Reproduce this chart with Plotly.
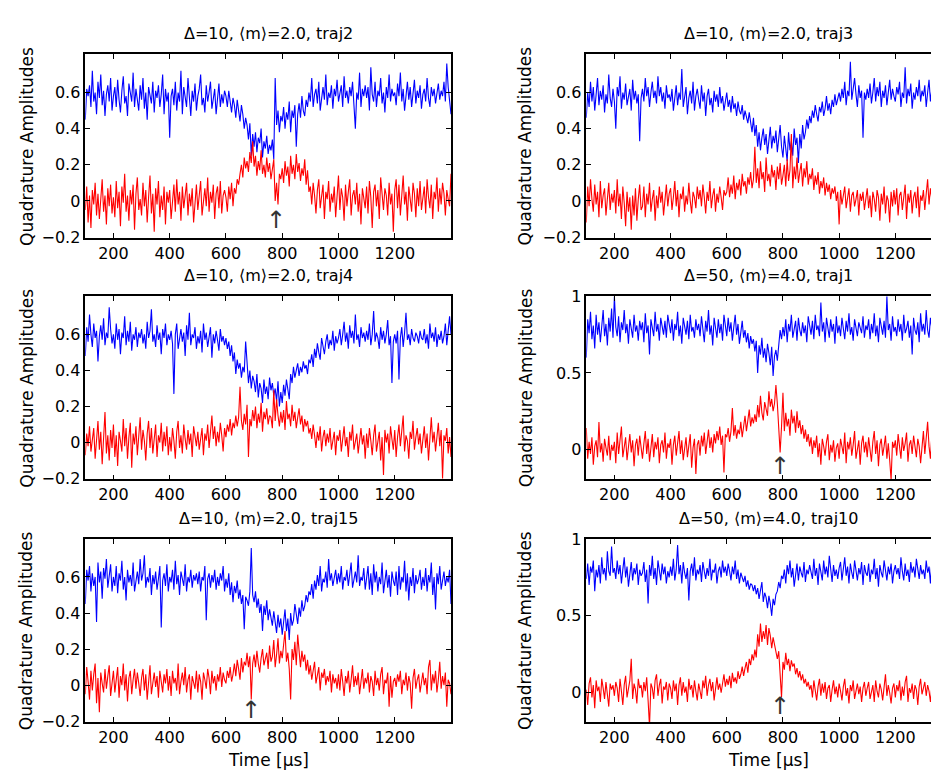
import plotly.graph_objects as go

# ---------------- data (time axis in microseconds, 5 us sampling) ----------------
time_us = list(range(100, 1401, 5))

blue_traj2 = [
    .45,.62,.58,.64,.52,.72,.55,.60,.48,.66,.57,.70,.53,.61,.47,.59,.64,.55,.68,.50,
    .58,.63,.52,.67,.56,.49,.61,.69,.54,.58,.47,.65,.60,.55,.71,.52,.62,.57,.50,.64,
    .56,.68,.51,.60,.45,.63,.58,.54,.66,.49,.61,.57,.64,.52,.59,.70,.48,.62,.55,.60,
    .35,.58,.62,.53,.66,.50,.60,.55,.72,.48,.63,.57,.52,.68,.59,.47,.61,.55,.65,.50,
    .58,.62,.70,.53,.57,.49,.64,.55,.60,.66,.51,.58,.62,.48,.57,.65,.52,.59,.54,.61,
    .58,.52,.61,.55,.49,.57,.53,.46,.56,.50,.44,.53,.48,.40,.46,.42,.34,.43,.25,.37,
    .30,.38,.27,.35,.32,.40,.24,.33,.29,.36,.26,.31,.28,.34,.23,.68,.42,.50,.38,.47,
    .44,.52,.40,.49,.45,.55,.38,.50,.46,.53,.30,.48,.54,.46,.58,.50,.47,.56,.52,.60,
    .55,.68,.52,.59,.62,.54,.66,.50,.58,.63,.56,.70,.53,.60,.57,.64,.51,.62,.58,.67,
    .55,.60,.64,.52,.69,.57,.61,.54,.63,.58,.66,.53,.40,.60,.56,.71,.52,.62,.58,.64,
    .57,.63,.50,.74,.59,.55,.66,.52,.61,.58,.68,.54,.60,.49,.63,.57,.70,.55,.62,.58,
    .60,.53,.65,.58,.71,.55,.62,.50,.59,.66,.56,.63,.52,.60,.67,.54,.61,.57,.64,.51,
    .59,.62,.55,.68,.57,.52,.63,.58,.62,.54,.60,.65,.56,.61,.58,.66,.55,.76,.63,.57,
    .48]
red_traj2 = [
    -.05,.08,-.12,.03,-.15,.06,-.02,.10,-.08,.04,-.10,.01,.12,-.06,.03,-.13,.07,-.03,.09,-.07,
    .02,-.09,.11,-.04,.05,-.14,.08,-.01,.15,-.06,.03,-.11,.06,-.02,.09,-.16,.04,.13,-.05,.01,
    -.08,.10,-.03,.06,-.12,.02,.14,-.07,.04,-.17,.07,-.02,.11,-.09,.03,-.05,.08,-.13,.05,-.01,
    .06,-.10,.03,.09,-.06,.12,-.02,.05,-.11,.08,-.04,.02,.10,-.08,.04,-.03,.07,-.12,.01,.09,
    -.05,.04,.11,-.08,.02,.07,-.03,.13,-.06,.05,-.01,.09,-.10,.04,.08,-.04,.11,-.07,.03,.06,
    .02,-.06,.08,.01,.10,-.03,.07,.04,.12,.09,.15,.20,.13,.24,.18,.22,.16,.27,.21,.33,
    .19,.25,.14,.22,.17,.28,.15,.20,.13,.24,.16,.21,.12,.18,.23,.00,.10,-.02,.15,.12,
    .18,.10,.22,.14,.19,.08,.25,.15,.20,.12,.26,.16,.21,.11,.18,.14,.23,.09,.17,.05,
    .08,-.02,.10,.03,-.07,.06,.12,-.04,.02,.09,-.10,.05,.01,.11,-.06,.04,-.01,.08,-.09,.03,
    .14,-.05,.07,.02,-.11,.09,-.03,.05,.12,-.08,.03,.06,-.02,.10,-.06,.04,-.13,.07,.01,-.04,
    .08,-.07,.11,.02,-.15,.05,.09,-.03,.06,-.10,.13,.01,-.05,.07,.03,-.08,.10,-.02,.04,-.17,
    .06,.12,-.04,.09,-.08,.03,.14,-.02,.05,-.11,.08,.01,-.06,.10,.04,-.09,.07,-.03,.11,-.05,
    .03,.08,-.07,.12,.02,-.04,.09,-.10,.05,.01,.13,-.06,.07,-.02,.10,.04,-.08,.06,.01,-.03,
    .15]

blue_traj3 = [
    .46,.60,.52,.66,.55,.63,.50,.58,.68,.53,.61,.56,.64,.49,.59,.54,.70,.57,.52,.62,
    .55,.40,.63,.58,.69,.51,.60,.56,.65,.53,.58,.62,.50,.67,.56,.61,.54,.59,.33,.57,
    .62,.55,.68,.58,.63,.52,.60,.66,.57,.61,.54,.69,.58,.63,.55,.60,.51,.64,.57,.59,
    .55,.62,.50,.58,.64,.53,.60,.56,.73,.52,.59,.63,.48,.57,.61,.54,.66,.50,.58,.62,
    .56,.51,.64,.55,.60,.47,.58,.62,.53,.57,.49,.61,.55,.59,.52,.63,.54,.58,.50,.56,
    .60,.52,.56,.49,.58,.51,.54,.47,.55,.50,.48,.53,.45,.50,.47,.43,.49,.44,.38,.46,
    .36,.42,.30,.38,.28,.35,.40,.31,.37,.26,.34,.41,.29,.36,.32,.39,.27,.35,.42,.30,
    .24,.36,.30,.22,.38,.28,.33,.25,.40,.31,.35,.21,.37,.29,.42,.34,.38,.45,.40,.47,
    .43,.50,.46,.53,.48,.44,.52,.49,.55,.47,.51,.58,.50,.54,.48,.56,.52,.59,.53,.57,
    .60,.55,.62,.57,.66,.53,.61,.58,.77,.56,.63,.68,.59,.52,.64,.57,.61,.35,.60,.56,
    .62,.57,.65,.54,.60,.68,.55,.63,.58,.66,.52,.61,.57,.64,.53,.60,.67,.56,.62,.58,
    .55,.63,.59,.66,.52,.60,.57,.74,.54,.62,.58,.65,.51,.60,.56,.63,.58,.67,.55,.61,
    .58,.64,.52,.60,.67,.55,.62,.58,.65,.53,.60,.69,.56,.63,.58,.61,.66,.54,.60,.68,
    .44]
red_traj3 = [
    -.12,.08,-.03,.12,.01,-.06,.09,-.02,.05,-.09,.11,-.04,.03,.07,-.08,.02,.10,-.05,.04,-.01,
    .06,-.07,.12,-.03,.04,-.10,.08,-.01,-.14,.05,-.06,.02,-.16,.03,-.08,.07,-.11,.01,.09,-.05,
    -.03,.08,-.09,.04,-.02,.10,-.06,.01,.06,-.11,.03,-.04,.08,-.01,.05,-.08,.02,.09,-.03,.04,
    .07,-.05,.02,.11,-.03,.06,-.09,.04,.01,.08,-.06,.03,-.02,.10,.00,-.07,.05,.02,-.04,.08,
    .01,.06,-.03,.09,.02,-.07,.05,.00,.11,-.04,.03,.07,-.06,.04,-.01,.08,.02,-.05,.06,.03,
    .05,.13,.02,.09,.04,.14,.01,.10,.06,.12,.03,.15,.08,.11,.04,.13,.09,.16,.07,.12,
    .30,.10,.18,.07,.22,.12,.16,.05,.24,.11,.15,.08,.20,.13,.17,.06,.19,.12,.21,.09,
    .14,.20,.08,.23,.11,.17,.37,.07,.19,.12,.24,.10,.16,.21,.08,.18,.13,.22,.09,.15,
    .12,.18,.06,.14,.09,.16,.04,.11,.07,.13,.03,.10,.05,.09,.01,.07,.04,.08,.00,.05,
    -.13,.06,-.02,.04,.08,-.04,.02,.07,-.06,.03,.05,-.03,.01,.06,-.08,.04,.00,.05,-.05,.02,
    .07,-.04,.03,-.09,.05,.01,-.06,.06,.02,-.11,.04,-.02,.08,-.07,.03,.00,-.12,.05,-.03,.06,
    -.02,.07,-.08,.03,.05,-.05,.01,.09,-.10,.04,-.01,.06,-.07,.02,.05,-.04,.08,-.09,.03,.00,
    .06,-.05,.04,.12,-.02,.07,.01,.16,-.04,.05,.02,.08,-.06,.04,.10,-.01,.06,.14,.03,.07,
    .15]

blue_traj4 = [
    .48,.64,.56,.71,.60,.53,.66,.58,.62,.45,.59,.65,.57,.69,.54,.61,.58,.75,.63,.55,
    .60,.52,.66,.57,.63,.49,.61,.58,.70,.54,.62,.56,.67,.51,.60,.57,.64,.53,.61,.58,
    .63,.55,.60,.52,.67,.58,.62,.74,.56,.60,.53,.65,.57,.61,.49,.63,.58,.66,.54,.60,
    .57,.62,.55,.27,.60,.66,.52,.58,.63,.56,.61,.48,.65,.57,.72,.54,.60,.58,.64,.52,
    .59,.55,.62,.50,.66,.57,.61,.53,.58,.64,.47,.60,.55,.62,.57,.51,.63,.56,.59,.54,
    .58,.52,.56,.48,.54,.45,.50,.38,.46,.41,.44,.36,.42,.39,.56,.44,.33,.40,.30,.37,
    .34,.28,.38,.25,.33,.30,.22,.35,.27,.31,.24,.36,.29,.33,.26,.30,.23,.34,.20,.28,
    .22,.32,.26,.35,.29,.24,.38,.33,.42,.36,.40,.44,.37,.42,.39,.45,.41,.43,.38,.46,
    .44,.49,.42,.52,.47,.55,.50,.46,.58,.53,.49,.56,.60,.52,.57,.54,.62,.51,.59,.55,
    .58,.63,.54,.60,.67,.56,.61,.52,.65,.58,.62,.55,.71,.57,.60,.53,.64,.58,.61,.56,
    .62,.57,.66,.54,.60,.73,.56,.61,.58,.52,.64,.57,.62,.55,.60,.68,.54,.59,.33,.56,
    .60,.55,.62,.35,.58,.64,.53,.61,.72,.57,.60,.54,.63,.58,.56,.61,.59,.55,.62,.58,
    .57,.63,.55,.60,.52,.66,.58,.61,.56,.64,.53,.60,.57,.62,.55,.59,.66,.54,.61,.70,
    .60]
red_traj4 = [
    -.07,.05,-.02,.09,-.05,.03,.08,-.09,.02,.12,-.04,.06,-.12,.01,.17,-.06,.04,-.10,.07,-.03,
    .10,-.08,.04,-.13,.06,.01,-.05,.13,-.02,.08,-.09,.03,.11,-.14,.05,-.01,.09,-.07,.02,.14,
    -.04,.07,.01,-.10,.05,.12,-.03,.08,-.06,.02,.10,-.08,.04,.00,.11,-.05,.06,-.02,.09,-.07,
    .03,-.05,.08,.01,-.09,.06,.12,-.03,.04,-.06,.10,.02,-.04,.07,-.01,.05,-.08,.09,.03,-.02,
    .06,-.04,.02,.08,-.07,.05,.01,.10,-.03,.07,.15,.02,.09,-.02,.06,.00,.11,.04,-.05,.08,
    .03,.10,.06,.13,.04,.11,.08,.15,.09,.14,.31,.12,.07,.16,.10,.21,-.08,.13,.09,.18,
    .12,.20,.08,.16,.11,.22,.06,.17,.13,.19,.10,.15,.14,.08,.29,.12,.24,.15,.09,.17,
    .11,.18,.07,.23,.13,.16,.09,.21,.12,.17,.08,.14,.19,.10,.15,.06,.13,.09,.12,.05,
    .08,.02,.10,.04,-.03,.06,.01,.09,-.05,.03,.07,-.02,.05,.00,.08,-.04,.02,.06,-.07,.04,
    .01,.07,-.05,.04,.09,-.02,.03,-.08,.06,.01,.10,-.04,.02,.05,-.06,.03,.08,-.01,.04,-.09,
    .05,-.03,.08,.01,-.07,.04,.10,-.05,.02,.06,-.10,.03,-.18,.07,.00,.05,-.06,.09,.02,-.04,
    .07,-.08,.03,.10,-.02,.05,.15,-.05,.04,.01,-.09,.06,.02,.12,-.04,.03,.08,-.01,.05,-.06,
    .02,.09,-.03,.05,-.10,.04,.14,.00,.06,-.05,.03,.11,-.02,.07,-.20,.04,.01,.08,-.06,.03,
    -.08]

blue_d50_traj1 = [
    .60,.85,.76,.90,.72,.81,.66,.88,.75,.83,.70,.79,.91,.74,.82,.68,.86,.77,.92,.73,
    1.0,.80,.74,.87,.70,.83,.78,.91,.76,.82,.69,.85,.79,.73,.88,.77,.81,.71,.84,.78,
    .83,.70,.89,.76,.81,.62,.85,.78,.74,.90,.77,.82,.71,.86,.79,.75,.84,.73,.88,.80,
    .76,.85,.71,.82,.78,.90,.74,.81,.69,.86,.79,.75,.84,.72,.88,.77,.80,.73,.85,.78,
    .82,.74,.87,.79,.70,.84,.77,.91,.75,.81,.68,.86,.78,.73,.85,.76,.82,.71,.88,.79,
    .74,.86,.77,.83,.71,.80,.88,.75,.82,.69,.79,.84,.73,.78,.70,.76,.66,.74,.69,.72,
    .64,.71,.50,.68,.62,.73,.60,.66,.57,.69,.63,.55,.67,.48,.61,.65,.58,.70,.78,.72,
    .80,.74,.85,.70,.82,.77,.88,.73,.79,.84,.71,.86,.78,.74,.83,.76,.81,.70,.87,.79,
    .75,.84,.72,.88,.78,.81,.74,.96,.77,.83,.70,.86,.79,.73,.85,.77,.82,.69,.87,.76,
    .81,.74,.86,.78,.72,.84,.77,.89,.75,.80,.71,.85,.78,.74,.83,.79,.76,.87,.73,.81,
    .78,.85,.72,.82,.76,.89,.74,.81,.70,.86,.79,.75,.84,.73,1.0,.78,.82,.71,.87,.77,
    .80,.74,.85,.77,.82,.71,.88,.76,.79,.84,.73,.81,.62,.86,.78,.75,.83,.70,.89,.77,
    .82,.75,.91,.78,.73,.86,.79,.84,.61,.88,.76,.81,.72,.90,.78,.83,.74,.87,.79,.85,
    .84]
red_d50_traj1 = [
    .14,-.06,.05,-.03,.08,-.10,.02,.06,-.05,.18,-.02,.04,-.08,.07,.01,-.04,.09,-.07,.03,-.01,
    .05,-.09,.11,-.03,.06,.15,-.05,.02,.08,-.07,.04,.10,-.02,.06,-.11,.03,.07,-.04,.09,.00,
    -.06,.04,.12,-.03,.07,-.08,.02,.10,-.05,.05,.00,.08,-.09,.03,.06,-.02,.11,-.06,.04,.01,
    .07,-.10,.03,.09,-.04,.05,.12,-.03,.06,-.07,.02,.08,-.05,.04,.10,-.12,.01,.07,-.16,.03,
    .06,-.04,.09,.02,.11,-.03,.07,.13,.01,.08,-.02,.10,.04,.12,.06,.15,.03,.09,-.15,.10,
    .08,.14,.05,.12,.27,.09,.16,.07,.13,.10,.18,.08,.15,.22,.12,.19,.26,.15,.21,.17,
    .23,.18,.29,.21,.35,.24,.19,.31,.26,.22,.38,.28,.33,.25,.30,.42,.30,.10,-.02,.15,
    .37,.12,.24,.15,.20,.09,.26,.17,.22,.11,.25,.14,.19,.10,.16,.07,.13,.05,.10,.02,
    .08,-.03,.06,.01,.09,-.05,.04,-.10,.07,.02,-.04,.05,.10,-.07,.03,-.02,.06,-.08,.01,.04,
    -.06,.07,.02,-.03,.11,-.09,.05,.00,.08,-.04,.03,.12,-.06,.01,.06,-.10,.04,.09,-.02,.05,
    -.05,.08,.01,-.08,.05,.12,-.03,.06,-.11,.03,.07,-.04,.02,.09,-.06,.04,-.07,-.20,.05,.01,
    .06,-.04,.10,.02,-.06,.08,-.01,.04,.11,-.08,.03,.06,-.03,.09,.00,-.05,.07,.02,-.09,.05,
    .12,-.03,.07,.18,.02,-.06,.09,.04,-.02,.13,.01,.06,-.08,.10,.03,-.04,.08,.00,.05,.09,
    .06]

blue_traj15 = [
    .45,.64,.58,.66,.52,.62,.55,.60,.35,.68,.57,.63,.48,.65,.59,.70,.54,.61,.67,.52,
    .60,.55,.66,.51,.62,.58,.69,.53,.60,.47,.64,.57,.61,.55,.68,.52,.59,.63,.56,.70,
    .58,.62,.72,.54,.60,.57,.65,.50,.61,.56,.63,.53,.59,.66,.32,.58,.62,.55,.67,.52,
    .60,.57,.64,.53,.69,.56,.61,.50,.63,.58,.55,.67,.52,.60,.57,.64,.54,.61,.58,.62,
    .56,.63,.52,.60,.58,.66,.36,.59,.62,.54,.61,.57,.64,.53,.60,.55,.62,.58,.66,.52,
    .59,.54,.62,.50,.57,.46,.55,.51,.58,.48,.53,.45,.50,.31,.49,.47,.44,.52,.76,.50,
    .46,.52,.43,.48,.40,.45,.30,.44,.39,.47,.36,.42,.38,.33,.41,.35,.29,.39,.32,.37,
    .28,.35,.42,.30,.37,.25,.40,.33,.36,.45,.39,.34,.43,.38,.47,.41,.44,.50,.46,.52,
    .50,.56,.48,.58,.53,.61,.55,.66,.52,.59,.57,.63,.54,.70,.58,.62,.55,.60,.64,.56,
    .62,.57,.66,.53,.60,.58,.64,.55,.61,.68,.54,.59,.63,.57,.72,.55,.60,.58,.65,.53,
    .59,.66,.53,.62,.50,.67,.57,.63,.52,.60,.56,.68,.51,.59,.64,.54,.61,.49,.63,.58,
    .55,.63,.50,.66,.53,.60,.57,.69,.52,.62,.47,.60,.55,.65,.51,.61,.56,.59,.64,.53,
    .60,.55,.65,.52,.61,.57,.68,.50,.60,.42,.62,.56,.66,.53,.59,.63,.55,.60,.57,.64,
    .45]
red_traj15 = [
    -.05,.10,.02,-.08,.08,-.03,.06,.12,-.10,.04,-.15,.07,.01,-.04,.09,-.02,.05,.11,-.06,.03,
    .08,-.04,.02,.10,-.07,.05,.00,.12,-.03,.06,-.09,.04,.08,-.05,.03,.09,-.02,.07,.01,-.06,
    .04,.09,-.03,.06,-.08,.02,.11,-.05,.03,.07,-.01,.05,-.07,.08,.02,-.04,.06,.01,.09,-.03,
    .05,-.06,.08,.01,.04,-.03,.12,-.05,.02,.07,.00,.10,-.04,.03,.06,-.08,.05,.01,-.02,.08,
    -.04,.06,.02,-.08,.07,.03,-.02,.09,.04,-.05,.08,.01,.05,-.03,.06,.02,.10,-.01,.07,.03,
    .01,.08,.04,.10,.02,.06,.12,.05,.14,.09,.03,.15,.07,.13,.11,.18,.10,.16,-.08,.12,
    .17,.10,.19,.12,.07,.15,.20,.11,.14,.18,.09,.22,.13,.16,.25,.10,.17,.26,.12,.19,
    .15,.22,.30,.13,.18,.09,-.08,.20,.14,.24,.11,.28,.16,.10,.19,.13,.17,.08,.14,.06,
    .11,.03,.08,.13,.01,.06,.10,-.03,.07,.04,.09,.00,.05,.02,.08,-.04,.06,.01,.04,-.02,
    .06,-.03,.09,.02,-.06,.05,.01,.08,-.04,.03,.11,-.01,.05,.00,.07,-.05,.03,.09,-.02,.04,
    .01,.07,-.04,.05,.02,-.06,.08,.00,.04,-.03,.06,.10,-.05,.03,.01,.07,-.12,.05,-.07,.02,
    .04,-.01,.06,.02,.08,-.05,.03,.00,.07,-.03,.05,.01,-.13,.04,.09,-.02,.03,.06,-.04,.02,
    .07,.00,.04,-.05,.10,.14,-.03,.06,.01,.08,-.04,.03,.13,-.02,.05,.00,.07,-.12,.03,.01,
    -.05]

blue_d50_traj10 = [
    .74,.84,.70,.82,.78,.86,.66,.80,.75,.83,.71,.88,.77,.81,.73,.92,.79,.76,.95,.78,
    .81,.74,.86,.77,.83,.71,.80,.88,.75,.82,.69,.79,.85,.73,.81,.77,.84,.70,.80,.76,
    .78,.85,.72,.80,.58,.83,.76,.89,.74,.81,.70,.86,.78,.73,.84,.77,.82,.71,.79,.75,
    .82,.76,.87,.73,.80,.96,.77,.83,.71,.85,.78,.74,.81,.60,.79,.84,.76,.88,.73,.80,
    .77,.83,.72,.85,.79,.74,.81,.76,.87,.73,.80,.78,.84,.71,.79,.82,.75,.86,.78,.82,
    .76,.84,.79,.73,.82,.77,.86,.74,.80,.71,.78,.75,.72,.76,.69,.73,.67,.71,.70,.66,
    .70,.64,.68,.61,.66,.72,.59,.65,.62,.55,.63,.58,.50,.61,.57,.64,.66,.72,.68,.76,
    .74,.80,.71,.83,.77,.86,.75,.81,.69,.79,.84,.73,.82,.78,.75,.85,.72,.80,.77,.83,
    .78,.74,.87,.76,.81,.70,.84,.79,.73,.86,.77,.82,.75,.89,.78,.72,.83,.76,.80,.74,
    .81,.85,.73,.79,.88,.76,.82,.71,.84,.78,.74,.86,.79,.73,.81,.77,.85,.70,.83,.78,
    .76,.84,.72,.80,.77,.87,.74,.81,.69,.83,.78,.75,.86,.80,.73,.82,.77,.84,.71,.79,
    .83,.77,.81,.74,.88,.79,.73,.84,.76,.80,.72,.85,.78,.82,.75,.87,.79,.74,.83,.77,
    .80,.74,.86,.78,.82,.71,.85,.79,.75,.97,.77,.83,.73,.88,.79,.84,.76,.81,.94,.78,
    .85]
red_d50_traj10 = [
    .02,-.08,.06,.10,-.03,.05,-.10,.08,.01,.04,-.06,.09,.03,-.04,.07,.00,-.09,.06,.02,.05,
    -.02,.07,.03,-.06,.09,.01,-.08,.05,.11,-.03,.04,.08,.22,-.04,.06,.02,-.07,.09,.03,.05,
    -.03,.07,.01,.10,-.05,-.22,.06,.03,-.04,.08,.12,-.02,.05,.09,-.07,.04,.02,.07,-.05,.06,
    .03,-.04,.08,.01,.06,-.08,.05,.10,-.02,.07,.00,.04,-.06,.09,.02,.05,-.03,.08,.01,-.05,
    .06,.02,-.04,.08,.03,.11,-.02,.05,.09,.01,.07,-.05,.04,.10,.02,.06,.00,.08,.12,.04,
    .09,.05,.11,.03,.13,.07,.10,.06,.14,.09,.12,.17,.11,.16,.20,.13,.22,.18,.25,.21,
    .28,.23,.38,.30,.45,.33,.40,.35,.44,.31,.42,.37,.29,.36,.32,.28,.22,.27,.08,-.03,
    .20,.15,.26,.18,.22,.14,.21,.17,.19,.12,.16,.10,.14,.08,.12,.06,.09,.04,.07,.02,
    .05,-.03,.08,.01,-.05,.04,.09,-.02,.06,.00,.07,-.04,.03,.05,-.06,.02,.08,-.01,.04,-.03,
    .06,.01,-.05,.04,.09,-.02,.03,-.07,.05,.01,.08,-.04,.02,.06,-.01,.04,-.06,.03,.07,-.02,
    .03,.07,-.04,.02,.05,-.06,.08,.01,-.03,.06,.02,-.05,.04,.12,-.02,.05,.00,-.07,.03,.06,
    -.03,.05,.01,.08,-.05,.04,-.02,.07,.11,-.06,.03,.00,.06,-.04,.05,.02,-.08,.04,.09,-.01,
    .03,.07,-.02,.05,.01,-.06,.04,.10,.00,.05,-.03,.08,.02,-.04,.06,.01,.09,-.02,.04,.00,
    .02]

panel_titles = [
    "Δ=10, ⟨m⟩=2.0, traj2", "Δ=10, ⟨m⟩=2.0, traj3",
    "Δ=10, ⟨m⟩=2.0, traj4", "Δ=50, ⟨m⟩=4.0, traj1",
    "Δ=10, ⟨m⟩=2.0, traj15", "Δ=50, ⟨m⟩=4.0, traj10",
]
blue_series = [blue_traj2, blue_traj3, blue_traj4, blue_d50_traj1, blue_traj15, blue_d50_traj10]
red_series = [red_traj2, red_traj3, red_traj4, red_d50_traj1, red_traj15, red_d50_traj10]
x_ticks = [200, 400, 600, 800, 1000, 1200]
y_ticks_small = [-0.2, 0, 0.2, 0.4, 0.6]
y_ticks_large = [0, 0.5, 1]
# jump times marked with an arrow (None = no arrow)
arrow_times = [779, None, None, 788, 690, 790]
arrow_levels = [-0.106, None, None, -0.11, -0.135, -0.085]
y_label = "Quadrature Amplitudes"
x_label = "Time [µs]"

# ---------------- layout geometry ----------------
W, H = 939, 776
FONT = "DejaVu Sans"
col_px = [(77.3, 443.0), (578.3, 943.5)]      # right column is cropped at the page edge
row_px = [(38.3, 226.0), (286.0, 473.3), (534.3, 721.7)]
y_ranges = [[-0.204, 0.811], [-0.204, 0.811], [-0.204, 0.811],
            [-0.195, 1.0], [-0.204, 0.811], [-0.19, 1.0]]

fig = go.Figure()
annotations = []
layout = dict(width=W, height=H, margin=dict(l=0, r=0, t=0, b=0),
              paper_bgcolor="white", plot_bgcolor="white", showlegend=False,
              font=dict(family=FONT, size=16, color="black"))

for i in range(6):
    r, c = divmod(i, 2)
    n = i + 1
    sfx = "" if n == 1 else str(n)
    x0, x1 = col_px[c]
    y0, y1 = row_px[r]
    vis_x1 = min(x1, W)
    xr_end = 100 + 1300 * (vis_x1 - x0) / (x1 - x0)
    xd = [x0 / W, vis_x1 / W]
    yd = [1 - y1 / H, 1 - y0 / H]

    fig.add_trace(go.Scatter(x=time_us[:len(blue_series[i])], y=blue_series[i], mode="lines",
                             line=dict(color="#0000ff", width=1.1), xaxis="x" + sfx, yaxis="y" + sfx))
    fig.add_trace(go.Scatter(x=time_us[:len(red_series[i])], y=red_series[i], mode="lines",
                             line=dict(color="#ff0000", width=1.1), xaxis="x" + sfx, yaxis="y" + sfx))

    layout["xaxis" + sfx] = dict(domain=xd, range=[100, xr_end], anchor="y" + sfx,
                                 tickvals=x_ticks, ticks="inside", ticklen=5, tickwidth=1,
                                 tickcolor="black", showline=True, linecolor="black", linewidth=1.5,
                                 mirror="ticks", showgrid=False, zeroline=False,
                                 tickfont=dict(family=FONT, size=16, color="black"))
    yt = y_ticks_large if y_ranges[i][1] > 0.9 else y_ticks_small
    layout["yaxis" + sfx] = dict(domain=yd, range=y_ranges[i], anchor="x" + sfx,
                                 tickvals=yt, ticks="inside", ticklen=5, tickwidth=1,
                                 tickcolor="black", showline=True, linecolor="black", linewidth=1.5,
                                 mirror=("ticks" if c == 0 else False), showgrid=False, zeroline=False,
                                 tickfont=dict(family=FONT, size=16, color="black"))

    cx = (x0 + x1) / 2 / W
    annotations.append(dict(text=panel_titles[i], xref="paper", yref="paper", x=cx,
                            y=1 - (y0 - 21) / H, xanchor="center", yanchor="middle",
                            showarrow=False, font=dict(family=FONT, size=16, color="black")))
    annotations.append(dict(text=y_label, xref="paper", yref="paper",
                            x=(18.8 if c == 0 else 517.5) / W, y=1 - (y0 + y1) / 2 / H,
                            xanchor="center", yanchor="middle", textangle=-90, showarrow=False,
                            font=dict(family=FONT, size=17, color="black")))
    if r == 2:
        annotations.append(dict(text=x_label, xref="paper", yref="paper", x=cx, y=1 - 761 / H,
                                xanchor="center", yanchor="middle", showarrow=False,
                                font=dict(family=FONT, size=17, color="black")))
    if arrow_times[i] is not None:
        annotations.append(dict(text="↑", xref="x" + sfx, yref="y" + sfx, x=arrow_times[i],
                                y=arrow_levels[i], xanchor="center", yanchor="middle",
                                showarrow=False,
                                font=dict(family=FONT, size=24, color="#333333")))

layout["annotations"] = annotations
fig.update_layout(**layout)
fig.write_html("out.html")
